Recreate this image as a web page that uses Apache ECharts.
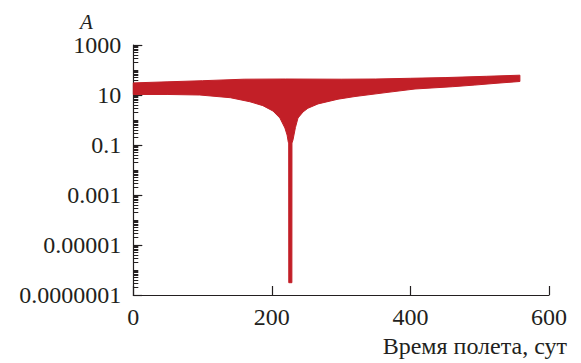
<!DOCTYPE html>
<html>
<head>
<meta charset="utf-8">
<script src="https://cdn.jsdelivr.net/npm/echarts@6/dist/echarts.min.js"></script>
</head>
<body style="margin:0;background:#ffffff">
<div id="chart" style="width:581px;height:363px"></div>
<script>
// Upper envelope of the oscillating amplitude A (days, value)
const upperDays = [0, 50, 100, 160, 220, 300, 350, 400, 450, 510, 558];
const upperVals = [30.5, 33.7, 37.3, 42.9, 43.6, 42.9, 43.6, 46.6, 49.7, 56, 62];

// Lower envelope, with the deep minimum near day 226
const lowerDays = [0, 50, 96, 140, 168, 187, 201.5, 211.6, 218.8, 222, 223.7, 224.3, 224.4,
                   228.9, 229, 230.5, 234, 237.7, 245, 252, 266.6, 295.5, 320, 367.6, 406.6,
                   461, 493, 525, 558];
const lowerVals = [10.5, 10.5, 10, 7.8, 5.4, 3.75, 2.3, 1.2, 0.48, 0.25, 0.13, 0.12, 3.1e-7,
                   3.1e-7, 0.12, 0.16, 0.5, 1.2, 2.1, 2.95, 4.4, 6.8, 8.7, 12.8, 17.4,
                   21.5, 25, 29.6, 34.7];

// Axis ticks
const xTicks = [0, 200, 400, 600];
const yLabelValues = [1e-7, 1e-5, 1e-3, 0.1, 10, 1000];
const yMinorValues = [];
for (let k = -7; k <= 2; k++) {
  for (let m = 1; m <= 9; m++) {
    if (m === 1 && (k % 2 !== 0)) continue; // labelled decades get the long tick
    yMinorValues.push(m * Math.pow(10, k));
  }
}

const bandColor = '#c21f27';
const inkColor = '#231f20';
const serifFamily = 'Liberation Serif';

function fmtPow(v) {
  const e = Math.round(Math.log10(v));
  return e >= 0 ? String(Math.pow(10, e)) : Math.pow(10, e).toFixed(-e);
}

const chart = echarts.init(document.getElementById('chart'), null, { renderer: 'svg' });

chart.setOption({
  animation: false,
  textStyle: { fontFamily: serifFamily },
  title: [
    {
      text: 'A', left: 80, top: 11,
      padding: 0,
      textStyle: { fontFamily: serifFamily, fontStyle: 'italic', fontWeight: 'normal', fontSize: 21, color: inkColor }
    },
    {
      text: 'Время полета, сут', right: 14, top: 334,
      padding: 0,
      textStyle: { fontFamily: serifFamily, fontWeight: 'normal', fontSize: 24, color: inkColor }
    }
  ],
  grid: { left: 133.3, right: 32, top: 45, bottom: 68 },
  xAxis: {
    type: 'value', min: 0, max: 600, interval: 200,
    axisLine: { lineStyle: { color: inkColor, width: 1.2 } },
    axisTick: { inside: true, length: 9, lineStyle: { color: inkColor, width: 1.2 } },
    axisLabel: { margin: 10, fontFamily: serifFamily, fontSize: 24, color: inkColor },
    splitLine: { show: false }
  },
  yAxis: [
    {
      type: 'log', logBase: 10, min: 1e-7, max: 1000,
      axisLine: { show: true, lineStyle: { color: inkColor, width: 1.2 } },
      axisTick: { show: true, inside: true, length: 9, lineStyle: { color: inkColor, width: 1.2 }, customValues: yLabelValues },
      axisLabel: { customValues: yLabelValues, margin: 12, fontFamily: serifFamily, fontSize: 24, color: inkColor, formatter: fmtPow },
      splitLine: { show: false }
    },
    {
      type: 'log', logBase: 10, min: 1e-7, max: 1000, position: 'left',
      axisLine: { show: false },
      axisTick: { show: true, inside: true, length: 5, lineStyle: { color: inkColor, width: 1 }, customValues: yMinorValues },
      axisLabel: { show: false },
      splitLine: { show: false }
    }
  ],
  series: [
    {
      type: 'custom',
      yAxisIndex: 0,
      data: upperDays.map((d, i) => [d, upperVals[i]]),
      encode: { x: 0, y: 1 },
      renderItem: function (params, api) {
        if (params.dataIndex !== 0) return null;
        const pts = [];
        for (let i = 0; i < upperDays.length; i++) pts.push(api.coord([upperDays[i], upperVals[i]]));
        for (let i = lowerDays.length - 1; i >= 0; i--) pts.push(api.coord([lowerDays[i], lowerVals[i]]));
        return {
          type: 'polygon',
          shape: { points: pts },
          style: { fill: bandColor, stroke: bandColor, lineWidth: 1, lineJoin: 'round' }
        };
      }
    }
  ]
});
</script>
</body>
</html>
